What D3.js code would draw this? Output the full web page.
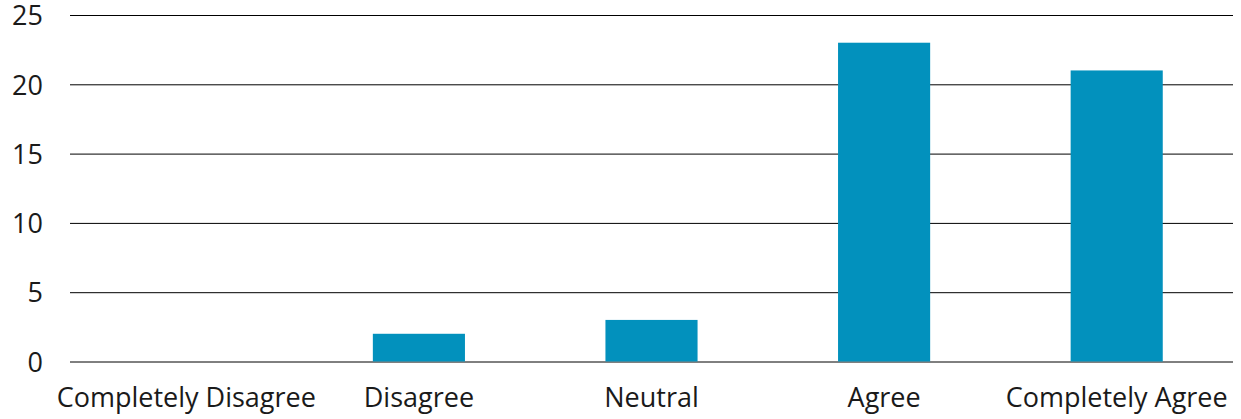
<!DOCTYPE html>
<html>
<head>
<meta charset="utf-8">
<script src="https://cdn.jsdelivr.net/npm/d3@7"></script>
<style>
  html, body { margin: 0; padding: 0; background: #fff; }
  svg text { font-family: "Open Sans", "Noto Sans", sans-serif; fill: #1a1a1a; }
</style>
</head>
<body>
<svg id="chart" width="1241" height="419"></svg>
<script>
// Survey responses per answer option
const categories = ["Completely Disagree", "Disagree", "Neutral", "Agree", "Completely Agree"];
const counts = [0, 2, 3, 23, 21];
const yTicks = [0, 5, 10, 15, 20, 25];

const svg = d3.select("#chart");
const plotLeft = 70, plotRight = 1233, plotTop = 15, plotBottom = 361.5;
const fontSize = 27;

const x = d3.scaleBand()
  .domain(categories)
  .range([plotLeft, plotRight])
  .paddingInner(0.604)
  .paddingOuter(0.302);

const y = d3.scaleLinear()
  .domain([0, 25])
  .range([plotBottom, plotTop]);

// Horizontal grid lines and value labels
const yAxis = d3.axisLeft(y)
  .tickValues(yTicks)
  .tickSize(-(plotRight - plotLeft))
  .tickPadding(27);

const gy = svg.append("g")
  .attr("transform", `translate(${plotLeft},0)`)
  .call(yAxis);
gy.select(".domain").remove();
gy.selectAll(".tick line").attr("stroke", "#000").attr("stroke-width", 1);
gy.selectAll(".tick text")
  .attr("font-size", fontSize)
  .attr("dy", "0.36em")
  .attr("fill", "#1a1a1a")
  .style("font-family", '"Open Sans", "Noto Sans", sans-serif');

// Bars
svg.append("g")
  .selectAll("rect")
  .data(categories.map((c, i) => ({ c, v: counts[i] })))
  .join("rect")
  .attr("x", d => x(d.c))
  .attr("y", d => y(d.v))
  .attr("width", x.bandwidth())
  .attr("height", d => y(0) - y(d.v))
  .attr("fill", "#0291bd");

// Category labels
const xAxis = d3.axisBottom(x).tickSize(0).tickPadding(26.5);
const gx = svg.append("g")
  .attr("transform", `translate(0,${plotBottom})`)
  .call(xAxis);
gx.select(".domain").remove();
gx.selectAll(".tick text")
  .attr("font-size", fontSize)
  .attr("fill", "#1a1a1a")
  .style("font-family", '"Open Sans", "Noto Sans", sans-serif');
</script>
</body>
</html>
